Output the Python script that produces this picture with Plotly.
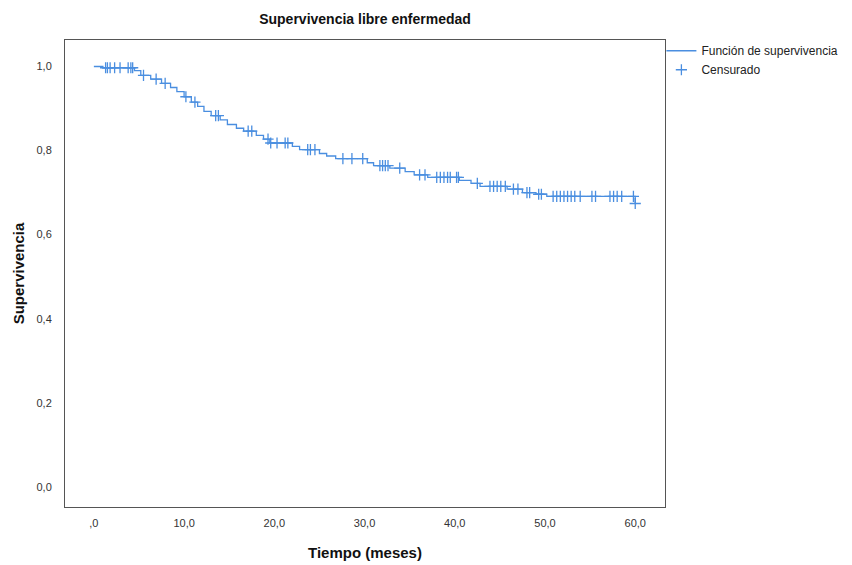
import numpy as np
import plotly.graph_objects as go

# Kaplan-Meier step function (time in months, survival after the event)
event_times = [0.0, 1.0, 4.5, 5.2, 6.3, 7.5, 8.5, 9.2, 10.0, 10.8, 11.5, 12.2, 13.0,
               14.0, 14.8, 15.8, 16.6, 18.0, 18.8, 19.5, 22.0, 22.8, 25.0, 25.8,
               26.8, 30.3, 31.0, 32.8, 34.5, 35.5, 37.0, 40.5, 41.8, 42.8, 45.8,
               47.5, 49.0, 50.2, 60.0]
survival = [1.000, 0.997, 0.990, 0.979, 0.970, 0.960, 0.950, 0.940, 0.928, 0.915,
            0.905, 0.893, 0.883, 0.873, 0.862, 0.853, 0.846, 0.836, 0.827, 0.818,
            0.810, 0.802, 0.793, 0.787, 0.781, 0.771, 0.764, 0.758, 0.750, 0.742,
            0.736, 0.729, 0.722, 0.715, 0.708, 0.700, 0.696, 0.691, 0.674]

# Censored observation times
censor_times = [1.3, 1.5, 1.8, 2.3, 2.9, 3.8, 4.1, 4.3, 5.5, 6.9, 7.9, 10.2, 11.2,
                13.5, 13.8, 17.1, 17.5, 19.3, 19.6, 20.3, 21.2, 21.5, 23.7, 24.0,
                24.5, 27.6, 28.6, 29.8, 31.7, 32.0, 32.3, 32.6, 33.9, 36.1, 36.7,
                38.0, 38.4, 38.8, 39.2, 39.5, 40.2, 40.4, 42.5, 43.9, 44.3, 44.7,
                45.1, 45.6, 46.5, 47.0, 48.0, 48.3, 49.3, 49.6, 50.9, 51.3, 51.7,
                52.1, 52.5, 52.9, 53.3, 53.9, 55.2, 55.6, 57.2, 57.6, 58.0, 58.5,
                59.8, 60.0]

x_tickvals = [0, 10, 20, 30, 40, 50, 60]
x_ticktext = [",0", "10,0", "20,0", "30,0", "40,0", "50,0", "60,0"]
y_tickvals = [0.0, 0.2, 0.4, 0.6, 0.8, 1.0]
y_ticktext = ["0,0", "0,2", "0,4", "0,6", "0,8", "1,0"]

ev_t = np.array(event_times)
ev_s = np.array(survival)
idx = np.searchsorted(ev_t, np.array(censor_times), side="right") - 1
censor_surv = ev_s[idx]

COLOR = "#4a8ee0"

fig = go.Figure()
fig.add_trace(go.Scatter(
    x=event_times, y=survival, mode="lines", line_shape="hv",
    line=dict(color=COLOR, width=1.3), name="Función de supervivencia"))
fig.add_trace(go.Scatter(
    x=censor_times, y=censor_surv, mode="markers",
    marker=dict(symbol="cross-thin", size=8, line=dict(color=COLOR, width=1.3)),
    name="Censurado"))

axis_font = dict(family="Liberation Sans, Arial, sans-serif", size=11, color="#333")
title_font = dict(family="Liberation Sans, Arial, sans-serif", size=15, color="#111")

fig.update_layout(
    width=852, height=565,
    margin=dict(l=65, r=187, t=40, b=58, autoexpand=False),
    paper_bgcolor="white", plot_bgcolor="white",
    title=dict(text="<b>Supervivencia libre enfermedad</b>", x=(65 + 665) / 2 / 852,
               xanchor="center", y=1 - 19 / 565, yanchor="middle",
               font=dict(family="Liberation Sans, Arial, sans-serif", size=14, color="#111")),
    showlegend=True,
    legend=dict(x=0.994, y=1.008, xanchor="left", yanchor="top",
                font=dict(family="Liberation Sans, Arial, sans-serif", size=12, color="#222"),
                bgcolor="rgba(0,0,0,0)", tracegroupgap=0, itemwidth=30),
    xaxis=dict(range=[-3.2, 63.3], tickvals=x_tickvals, ticktext=x_ticktext,
               showgrid=False, zeroline=False, showline=True, mirror=True,
               linecolor="#555", linewidth=1, ticks="outside", ticklen=6,
               tickcolor="rgba(0,0,0,0)", tickfont=axis_font,
               title=dict(text="<b>Tiempo (meses)</b>", font=title_font, standoff=19)),
    yaxis=dict(range=[-0.048, 1.063], tickvals=y_tickvals, ticktext=y_ticktext,
               showgrid=False, zeroline=False, showline=True, mirror=True,
               linecolor="#555", linewidth=1, ticks="outside", ticklen=10,
               tickcolor="rgba(0,0,0,0)", tickfont=axis_font,
               title=dict(text="<b>Supervivencia</b>", font=title_font, standoff=8)),
)

fig.write_html("out.html")
